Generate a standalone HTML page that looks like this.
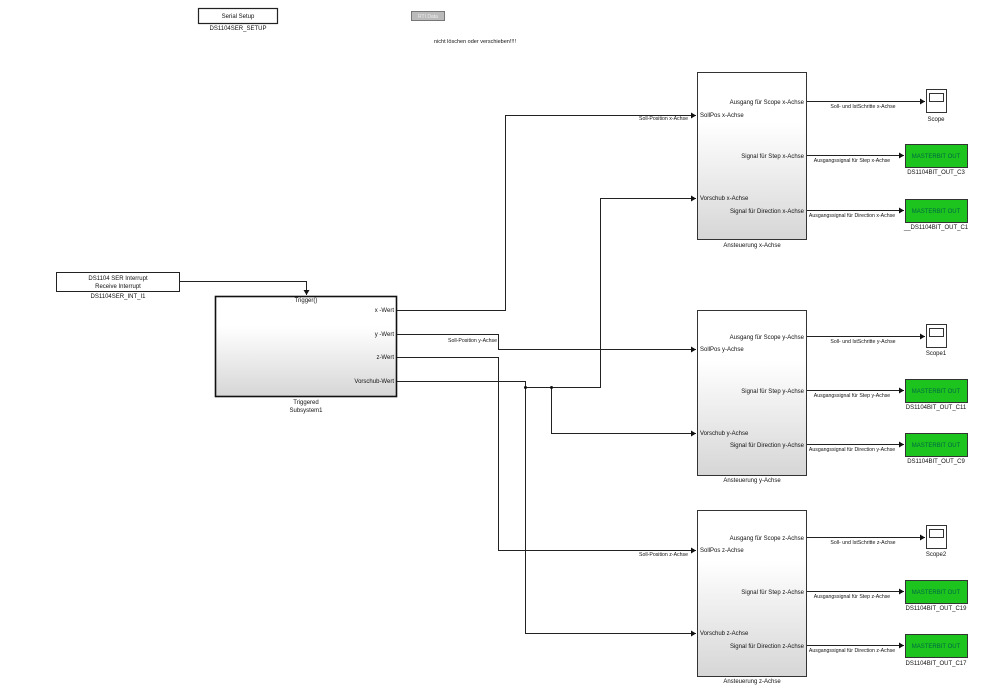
<!DOCTYPE html>
<html><head><meta charset="utf-8"><style>
html,body{margin:0;padding:0;background:#fff;width:1000px;height:690px;overflow:hidden}
text{font-family:"Liberation Sans",sans-serif;font-size:6px;fill:#111}
.lbl{font-size:5.2px}
.w{stroke:#222;stroke-width:1;fill:none}
</style></head><body>
<svg width="1000" height="690" viewBox="0 0 1000 690" xmlns="http://www.w3.org/2000/svg">
<defs>
<linearGradient id="g" x1="0" y1="0" x2="0" y2="1"><stop offset="0.3" stop-color="#fff"/><stop offset="1" stop-color="#d6d6d6"/></linearGradient>
<marker id="a" markerWidth="6" markerHeight="6" refX="5" refY="3" orient="auto" markerUnits="userSpaceOnUse"><path d="M0,0 L5,3 L0,6z" fill="#111"/></marker>
</defs>
<rect x="198.5" y="8.5" width="79" height="15" fill="#fff" stroke="#222" stroke-width="1.2"/>
<text x="238" y="18" text-anchor="middle">Serial Setup</text>
<text x="238" y="30" text-anchor="middle">DS1104SER_SETUP</text>
<rect x="411.5" y="11.5" width="33" height="9" fill="#bbb" stroke="#777"/>
<text x="428" y="18" text-anchor="middle" style="font-size:5px;fill:#eee">RTI Data</text>
<text x="475" y="43" text-anchor="middle" style="font-size:5.5px">nicht löschen oder verschieben!!!!</text>
<rect x="56.5" y="272.5" width="123" height="19" fill="#fff" stroke="#222"/>
<text x="118" y="280" text-anchor="middle">DS1104 SER Interrupt</text>
<text x="118" y="288" text-anchor="middle">Receive Interrupt</text>
<text x="118" y="298" text-anchor="middle">DS1104SER_INT_I1</text>
<path class="w" d="M179,281.5 H306.5 V295" marker-end="url(#a)"/>
<rect x="215.5" y="296.5" width="181" height="100" fill="url(#g)" stroke="#111" stroke-width="1.6"/>
<text x="306" y="302" text-anchor="middle">Trigger()</text>
<text x="394" y="312" text-anchor="end">x -Wert</text>
<text x="394" y="336" text-anchor="end">y -Wert</text>
<text x="394" y="359" text-anchor="end">z-Wert</text>
<text x="394" y="383" text-anchor="end">Vorschub-Wert</text>
<text x="306" y="404" text-anchor="middle">Triggered</text>
<text x="306" y="412" text-anchor="middle">Subsystem1</text>
<path class="w" d="M397,310.5 H505.5 V115.5 H696" marker-end="url(#a)"/>
<text class="lbl" x="688" y="120" text-anchor="end">Soll-Position x-Achse</text>
<path class="w" d="M397,334.5 H498.5 V349.5 H696" marker-end="url(#a)"/>
<text class="lbl" x="497" y="342" text-anchor="end">Soll-Position y-Achse</text>
<path class="w" d="M397,357.5 H498.5 V550.5 H696" marker-end="url(#a)"/>
<text class="lbl" x="688" y="556" text-anchor="end">Soll-Position z-Achse</text>
<path class="w" d="M397,381.5 H525.5 V633.5 H696" marker-end="url(#a)"/>
<path class="w" d="M525.5,387.5 H600.5 V198.5 H696" marker-end="url(#a)"/>
<path class="w" d="M551.5,387.5 V433.5 H696" marker-end="url(#a)"/>
<circle cx="525.5" cy="387.5" r="1.5" fill="#111"/>
<circle cx="551.5" cy="387.5" r="1.5" fill="#111"/>

<rect x="697.5" y="72.5" width="109" height="167" fill="url(#g)" stroke="#333"/>
<text x="700" y="117">SollPos x-Achse</text>
<text x="700" y="200">Vorschub x-Achse</text>
<text x="804" y="104" text-anchor="end">Ausgang für Scope x-Achse</text>
<text x="804" y="158" text-anchor="end">Signal für Step x-Achse</text>
<text x="804" y="213" text-anchor="end">Signal für Direction x-Achse</text>
<text x="752" y="247" text-anchor="middle">Ansteuerung x-Achse</text>
<path class="w" d="M807,101.5 H925" marker-end="url(#a)"/>
<text class="lbl" x="863" y="108" text-anchor="middle">Soll- und IstSchritte x-Achse</text>
<path class="w" d="M807,155.5 H904" marker-end="url(#a)"/>
<text class="lbl" x="852" y="162" text-anchor="middle">Ausgangssignal für Step x-Achse</text>
<path class="w" d="M807,210.5 H904" marker-end="url(#a)"/>
<text class="lbl" x="852" y="217" text-anchor="middle">Ausgangssignal für Direction x-Achse</text>
<rect x="926.5" y="89.5" width="20" height="23" fill="#fff" stroke="#333"/><rect x="929.5" y="93.5" width="14" height="8" fill="#fff" stroke="#333"/>
<text x="936" y="121" text-anchor="middle">Scope</text>
<rect x="905.5" y="144.5" width="62" height="23" fill="#1dc41d" stroke="#333"/><text x="936" y="158" text-anchor="middle" style="fill:#064">MASTERBIT OUT</text>
<text x="936" y="174" text-anchor="middle">DS1104BIT_OUT_C3</text>
<rect x="905.5" y="199.5" width="62" height="23" fill="#1dc41d" stroke="#333"/><text x="936" y="213" text-anchor="middle" style="fill:#064">MASTERBIT OUT</text>
<text x="936" y="229" text-anchor="middle">__DS1104BIT_OUT_C1</text>

<rect x="697.5" y="310.5" width="109" height="165" fill="url(#g)" stroke="#333"/>
<text x="700" y="351">SollPos y-Achse</text>
<text x="700" y="435">Vorschub y-Achse</text>
<text x="804" y="339" text-anchor="end">Ausgang für Scope y-Achse</text>
<text x="804" y="393" text-anchor="end">Signal für Step y-Achse</text>
<text x="804" y="447" text-anchor="end">Signal für Direction y-Achse</text>
<text x="752" y="482" text-anchor="middle">Ansteuerung y-Achse</text>
<path class="w" d="M807,336.5 H925" marker-end="url(#a)"/>
<text class="lbl" x="863" y="343" text-anchor="middle">Soll- und IstSchritte y-Achse</text>
<path class="w" d="M807,390.5 H904" marker-end="url(#a)"/>
<text class="lbl" x="852" y="397" text-anchor="middle">Ausgangssignal für Step y-Achse</text>
<path class="w" d="M807,444.5 H904" marker-end="url(#a)"/>
<text class="lbl" x="852" y="451" text-anchor="middle">Ausgangssignal für Direction y-Achse</text>
<rect x="926.5" y="324.5" width="20" height="23" fill="#fff" stroke="#333"/><rect x="929.5" y="328.5" width="14" height="8" fill="#fff" stroke="#333"/>
<text x="936" y="355" text-anchor="middle">Scope1</text>
<rect x="905.5" y="379.5" width="62" height="23" fill="#1dc41d" stroke="#333"/><text x="936" y="393" text-anchor="middle" style="fill:#064">MASTERBIT OUT</text>
<text x="936" y="409" text-anchor="middle">DS1104BIT_OUT_C11</text>
<rect x="905.5" y="433.5" width="62" height="23" fill="#1dc41d" stroke="#333"/><text x="936" y="447" text-anchor="middle" style="fill:#064">MASTERBIT OUT</text>
<text x="936" y="463" text-anchor="middle">DS1104BIT_OUT_C9</text>

<rect x="697.5" y="510.5" width="109" height="166" fill="url(#g)" stroke="#333"/>
<text x="700" y="552">SollPos z-Achse</text>
<text x="700" y="635">Vorschub z-Achse</text>
<text x="804" y="540" text-anchor="end">Ausgang für Scope z-Achse</text>
<text x="804" y="594" text-anchor="end">Signal für Step z-Achse</text>
<text x="804" y="648" text-anchor="end">Signal für Direction z-Achse</text>
<text x="752" y="683" text-anchor="middle">Ansteuerung z-Achse</text>
<path class="w" d="M807,537.5 H925" marker-end="url(#a)"/>
<text class="lbl" x="863" y="544" text-anchor="middle">Soll- und IstSchritte z-Achse</text>
<path class="w" d="M807,591.5 H904" marker-end="url(#a)"/>
<text class="lbl" x="852" y="598" text-anchor="middle">Ausgangssignal für Step z-Achse</text>
<path class="w" d="M807,645.5 H904" marker-end="url(#a)"/>
<text class="lbl" x="852" y="652" text-anchor="middle">Ausgangssignal für Direction z-Achse</text>
<rect x="926.5" y="525.5" width="20" height="23" fill="#fff" stroke="#333"/><rect x="929.5" y="529.5" width="14" height="8" fill="#fff" stroke="#333"/>
<text x="936" y="556" text-anchor="middle">Scope2</text>
<rect x="905.5" y="580.5" width="62" height="23" fill="#1dc41d" stroke="#333"/><text x="936" y="594" text-anchor="middle" style="fill:#064">MASTERBIT OUT</text>
<text x="936" y="610" text-anchor="middle">DS1104BIT_OUT_C19</text>
<rect x="905.5" y="634.5" width="62" height="23" fill="#1dc41d" stroke="#333"/><text x="936" y="648" text-anchor="middle" style="fill:#064">MASTERBIT OUT</text>
<text x="936" y="665" text-anchor="middle">DS1104BIT_OUT_C17</text>
</svg>
</body></html>
